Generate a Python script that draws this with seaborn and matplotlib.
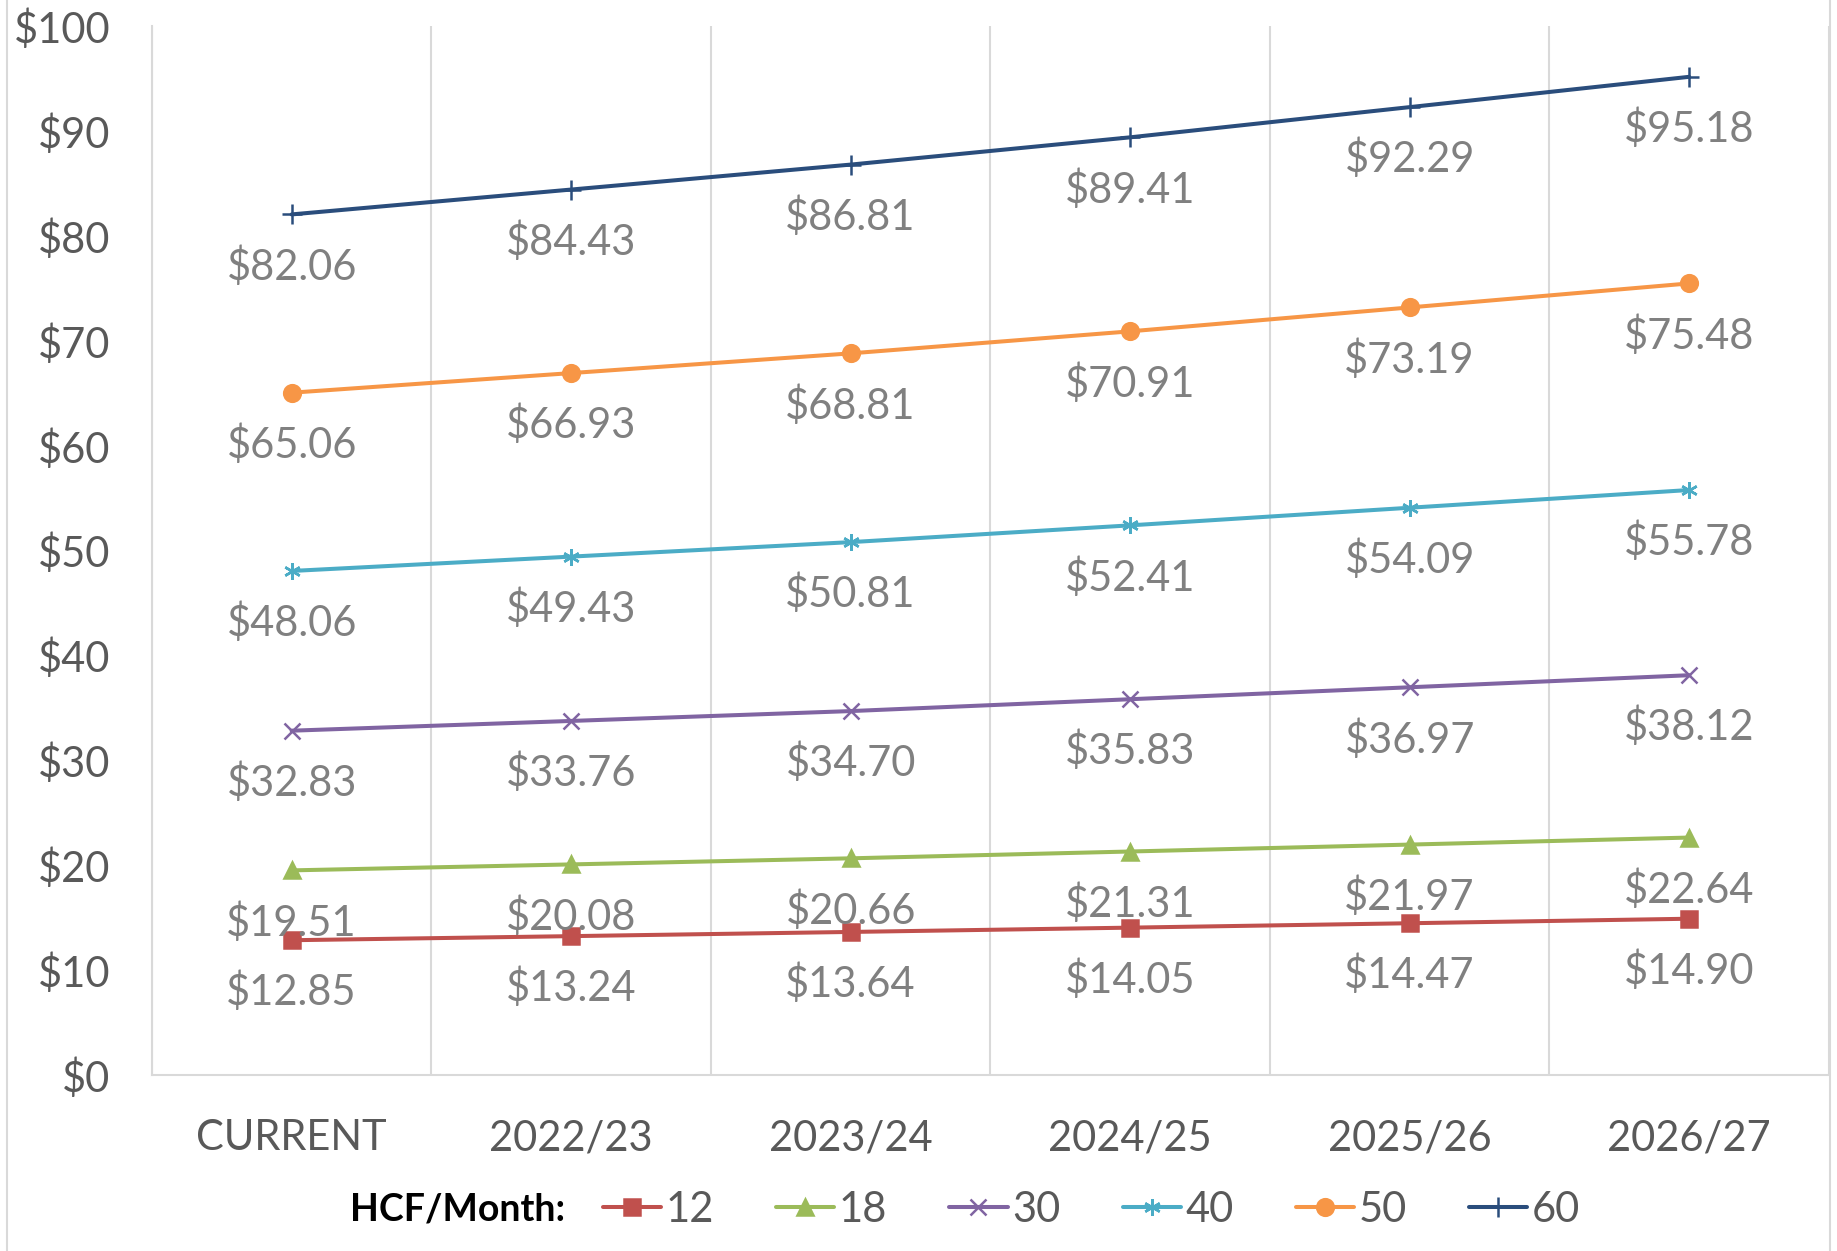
import numpy as np
import pandas as pd
import matplotlib
matplotlib.use("Agg")
import matplotlib.pyplot as plt
import seaborn as sns
from matplotlib.patches import Rectangle

# data
periods = ["CURRENT", "2022/23", "2023/24", "2024/25", "2025/26", "2026/27"]
hcf_12 = [12.85, 13.24, 13.64, 14.05, 14.47, 14.90]
hcf_18 = [19.51, 20.08, 20.66, 21.31, 21.97, 22.64]
hcf_30 = [32.83, 33.76, 34.70, 35.83, 36.97, 38.12]
hcf_40 = [48.06, 49.43, 50.81, 52.41, 54.09, 55.78]
hcf_50 = [65.06, 66.93, 68.81, 70.91, 73.19, 75.48]
hcf_60 = [82.06, 84.43, 86.81, 89.41, 92.29, 95.18]
y_ticks = [0, 10, 20, 30, 40, 50, 60, 70, 80, 90, 100]

series = {"12": hcf_12, "18": hcf_18, "30": hcf_30,
          "40": hcf_40, "50": hcf_50, "60": hcf_60}
styles = {
    "12": ("#C0504D", "s", 11),
    "18": ("#9BBB59", "^", 12),
    "30": ("#8064A2", "x", 11),
    "40": ("#4BACC6", (6, 2, 0), 12),
    "50": ("#F79646", "o", 12),
    "60": ("#2A4D7C", "+", 14),
}

rows = []
for name, vals in series.items():
    for i, v in enumerate(vals):
        rows.append({"series": name, "idx": i, "value": v})
df = pd.DataFrame(rows)

sns.set_theme(style="white")
plt.rcParams["font.family"] = ["Lato", "DejaVu Sans"]

fig = plt.figure(figsize=(18.37, 12.51), dpi=100)
ax = fig.add_axes([0.0827, 0.1407, 0.9129, 0.8383])

label_col = "#808080"
axis_col = "#595959"
grid_col = "#D9D9D9"

for name in series:
    color, marker, ms = styles[name]
    sub = df[df["series"] == name]
    sns.lineplot(data=sub, x="idx", y="value", ax=ax, color=color,
                 linewidth=2.9, marker=marker, markersize=ms,
                 markeredgecolor=color, markeredgewidth=1.8,
                 label=name, legend=False)
    for _, r in sub.iterrows():
        ax.annotate(f"${r['value']:.2f}", (r["idx"], r["value"]),
                    xytext=(0, -52), textcoords="offset pixels",
                    ha="center", va="center", fontsize=30, color=label_col)

ax.set_xlim(-0.5, len(periods) - 0.5)
ax.set_ylim(0, 100)
ax.set_xticks(range(len(periods)))
ax.set_xticklabels(periods)
ax.set_xticks(np.arange(-0.5, len(periods)), minor=True)
ax.set_yticks(y_ticks)
ax.set_yticklabels([f"${t}" for t in y_ticks])
ax.set_xlabel("")
ax.set_ylabel("")
ax.tick_params(axis="x", which="major", length=0, pad=32, labelsize=30,
               labelcolor=axis_col)
ax.tick_params(axis="x", which="minor", length=0)
ax.tick_params(axis="y", length=0, pad=30, labelsize=30, labelcolor=axis_col)
ax.grid(axis="x", which="minor", color=grid_col, linewidth=1.5)
ax.grid(axis="y", visible=False)
ax.grid(axis="x", which="major", visible=False)
for side in ["top", "right"]:
    ax.spines[side].set_visible(False)
for side in ["left", "bottom"]:
    ax.spines[side].set_color(grid_col)
    ax.spines[side].set_linewidth(1.5)

handles, labels = ax.get_legend_handles_labels()
leg = fig.legend(handles, labels, loc="center", bbox_to_anchor=(0.594, 0.033),
                 ncol=6, frameon=False, fontsize=30, handlelength=1.4,
                 handletextpad=0.1, columnspacing=1.5)
for t in leg.get_texts():
    t.set_color(axis_col)
fig.text(0.249, 0.033, "HCF/Month:", ha="center", va="center",
         fontsize=27, fontweight="bold", color="black")

# light outer frame like the source chart
fig.patches.append(Rectangle((0.004, -0.01), 0.992, 1.02, transform=fig.transFigure,
                             fill=False, edgecolor=grid_col, linewidth=1.5))

fig.savefig("out.png", dpi=100)
plt.close(fig)
